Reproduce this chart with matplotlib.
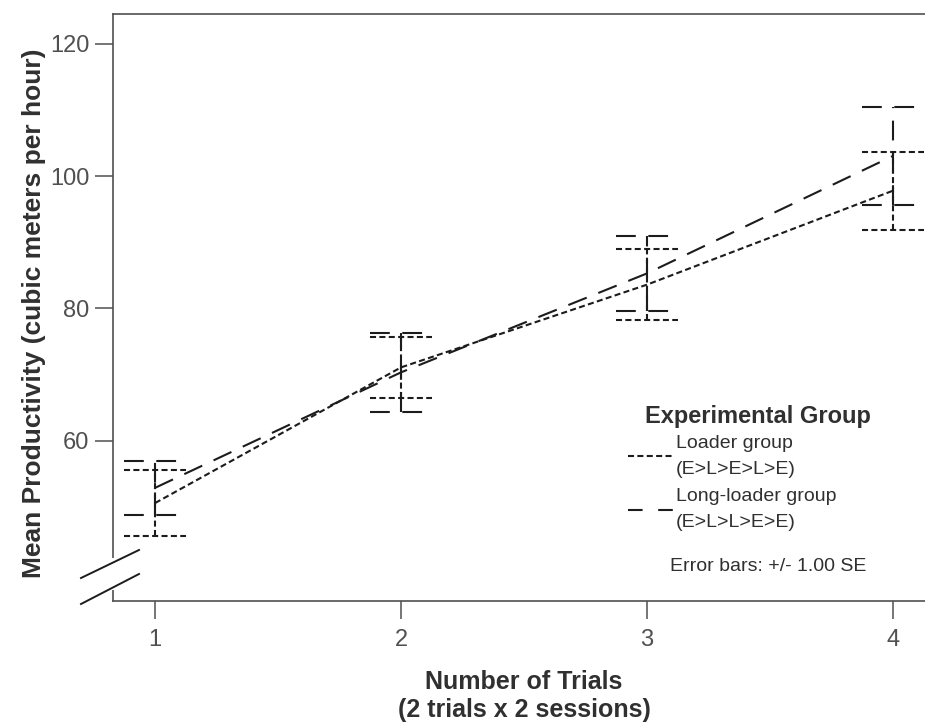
import matplotlib
matplotlib.use("Agg")
import matplotlib.pyplot as plt
from matplotlib.lines import Line2D
from matplotlib.patches import Rectangle
import numpy as np

plt.rcParams['font.family'] = ['Liberation Sans', 'DejaVu Sans']

# data
trials = np.array([1, 2, 3, 4])
loader_mean = np.array([50.6, 71.1, 83.6, 97.8])
loader_se = np.array([5.0, 4.6, 5.35, 5.9])
long_mean = np.array([52.9, 70.35, 85.3, 103.05])
long_se = np.array([4.1, 6.0, 5.65, 7.4])

labels = ['Loader group\n(E>L>E>L>E)', 'Long-loader group\n(E>L>L>E>E)']
yticks = [60, 80, 100, 120]

ink = '#1c1c1c'
grey = '#505050'
dot_ls = (0, (2.9, 1.6))
dash_ls = (0, (9.5, 6.0))
cap_w = 0.125

fig = plt.figure(figsize=(9.25, 7.23), dpi=100)
ax = fig.add_axes([113 / 925, 1 - 601 / 723, 822 / 925, 587 / 723])

for mean, se, ls in [(loader_mean, loader_se, dot_ls), (long_mean, long_se, dash_ls)]:
    ax.plot(trials, mean, color=ink, lw=1.5, linestyle=ls)
    ax.vlines(trials, mean - se, mean + se, color=ink, lw=1.5, linestyles=[ls])
    ax.hlines(mean + se, trials - cap_w, trials + cap_w, color=ink, lw=1.5, linestyles=[ls])
    ax.hlines(mean - se, trials - cap_w, trials + cap_w, color=ink, lw=1.5, linestyles=[ls])

ax.set_xlim(0.829, 4.171)
ax.set_ylim(35.8, 124.5)
ax.set_xticks(trials)
ax.set_yticks(yticks)
ax.tick_params(axis='both', length=13, width=1.1, color=grey, labelcolor=grey,
               labelsize=17, direction='out')
ax.tick_params(axis='x', pad=7)
ax.tick_params(axis='y', pad=4)
for side in ['left', 'bottom', 'top']:
    ax.spines[side].set_color(grey)
    ax.spines[side].set_linewidth(1.2)
ax.spines['right'].set_visible(False)

ax.set_xlabel('Number of Trials\n(2 trials x 2 sessions)', fontsize=18,
              fontweight='bold', color='#303030', labelpad=14)
ax.set_ylabel('Mean Productivity (cubic meters per hour)', fontsize=19,
              fontweight='bold', color='#303030')
ax.yaxis.set_label_coords(-0.0815, 0.49)

handles = [Line2D([], [], color=ink, lw=1.5, linestyle=dot_ls),
           Line2D([], [], color=ink, lw=1.5, linestyle=(0, (7.0, 7.5)))]
leg = ax.legend(handles, labels, loc='upper left', bbox_to_anchor=(0.6265, 0.283),
                frameon=False, fontsize=14, handlelength=2.3, handletextpad=0.15,
                labelspacing=0.55, borderpad=0, borderaxespad=0)
for t in leg.get_texts():
    t.set_color('#303030')
    t.set_linespacing(1.68)

ax.text(0.647, 0.3135, 'Experimental Group', transform=ax.transAxes, fontsize=17,
        fontweight='bold', color='#303030', va='center', ha='left')
ax.text(0.6776, 0.058, 'Error bars: +/- 1.00 SE', transform=ax.transAxes,
        fontsize=14, color='#303030', va='center', ha='left')

# axis break marks on the y axis
fig.add_artist(Rectangle((107 / 925, 1 - 590 / 723), 12 / 925, 32 / 723,
                         transform=fig.transFigure, facecolor='white',
                         edgecolor='none', zorder=5))
for y0, y1 in [(578, 550), (604, 574)]:
    fig.add_artist(Line2D([81 / 925, 139 / 925], [1 - y0 / 723, 1 - y1 / 723],
                          transform=fig.transFigure, color=ink, lw=1.4, zorder=6))

fig.savefig('out.png', dpi=100)
